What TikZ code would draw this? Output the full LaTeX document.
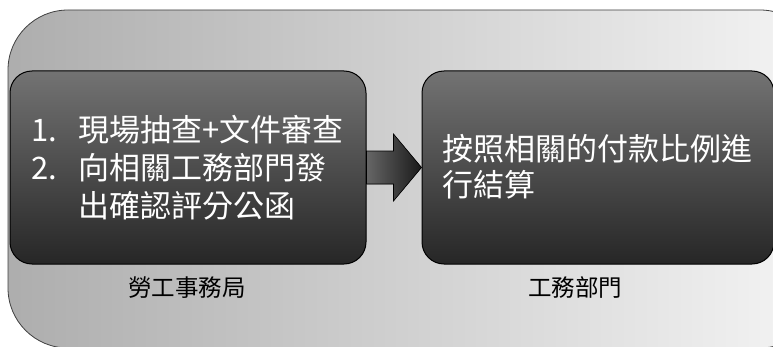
\documentclass[tikz,border=0pt]{standalone}
\usepackage{fontspec}
\setmainfont{Noto Sans CJK TC}
\usetikzlibrary{calc}
\tikzset{
  darkbox/.style={draw=black, line width=1pt, rounded corners=22pt, top color=black!55, bottom color=black!85, minimum width=#1, minimum height=193pt, inner sep=0pt},
  boxtext/.style={text=white, anchor=west, inner sep=0pt, font=\fontsize{31}{38}\selectfont, align=left},
  caption/.style={text=black, inner sep=0pt, font=\fontsize{23.5}{26}\selectfont},
  blockarrow/.style={left color=black!60, right color=black!90, draw=black, line width=0.6pt},
  backdrop/.style={left color=black!32, right color=black!4, draw=black!75, line width=0.8pt}
}
\begin{document}
\begin{tikzpicture}[x=1pt,y=1pt]
\useasboundingbox (0,0) rectangle (773,346);
\clip (0,0) rectangle (773,346);
\path[backdrop, rounded corners=60pt] (8,-2) rectangle (820,336);
\node[darkbox=356pt] (L) at (188,178.5) {};
\node[darkbox=352pt] (R) at (598,178.5) {};
\fill[blockarrow] ($(L.east)+(0,16.5)$) -- ($(L.east)+(27,16.5)$) -- ($(L.east)+(27,33.5)$) -- (R.west) -- ($(L.east)+(27,-33.5)$) -- ($(L.east)+(27,-16.5)$) -- ($(L.east)+(0,-16.5)$) -- cycle;
\node[boxtext] (Lt) at (31,174) {\begin{tabular}{@{}p{47pt}@{}l@{}}1. & 現場抽查+文件審查\\ 2. & 向相關工務部門發\\ & 出確認評分公函\end{tabular}};
\node[boxtext, font=\fontsize{31}{36}\selectfont] (Rt) at (442,179.5) {按照相關的付款比例進\\行結算};
\node[caption] (Lc) at (187,58) {勞工事務局};
\node[caption] (Rc) at (575,58) {工務部門};
\end{tikzpicture}
\end{document}
